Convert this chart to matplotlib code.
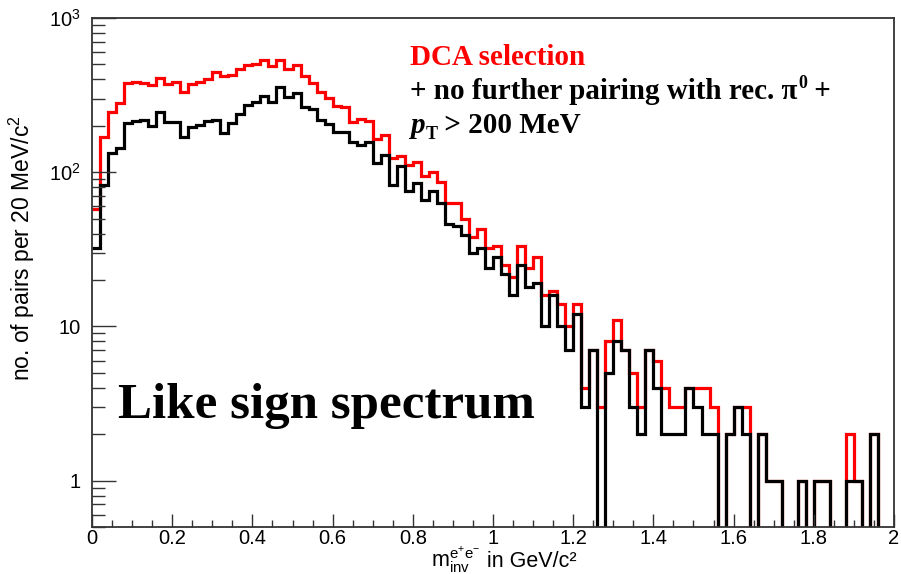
import numpy as np
import matplotlib
matplotlib.use("Agg")
import matplotlib.pyplot as plt
from matplotlib.ticker import FixedLocator, FixedFormatter, MultipleLocator, LogLocator, NullFormatter

# Invariant-mass histogram, 20 MeV/c^2 bins from 0 to 2 GeV/c^2
mass_min = 0.0
bin_width = 0.02
n_bins = 100

# DCA selection (red)
dca_counts = [
    58, 170, 245, 283, 378, 387, 378, 365, 410, 373,
    385, 331, 375, 382, 403, 444, 418, 425, 469, 498,
    505, 531, 485, 531, 467, 492, 418, 378, 331, 303,
    267, 264, 213, 222, 216, 163, 175, 124, 128, 111,
    117, 94, 101, 87, 63, 63, 50, 38, 43, 32,
    33, 25, 21, 33, 24, 28, 16, 17, 14, 10,
    14, 4, 7, 3, 8, 11, 7, 5, 3, 7,
    6, 4, 3, 3, 4, 4, 4, 3, 0, 2,
    3, 3, 0, 2, 1, 1, 0, 0, 1, 0,
    1, 1, 0, 0, 2, 1, 0, 2, 0, 0,
]

# + no further pairing with rec. pi0 + pT > 200 MeV (black)
pt_cut_counts = [
    32, 83, 133, 144, 210, 215, 219, 198, 245, 213,
    213, 169, 196, 203, 214, 219, 179, 208, 239, 272,
    284, 311, 287, 355, 306, 326, 266, 256, 219, 206,
    182, 181, 158, 150, 158, 114, 130, 82, 110, 75,
    85, 66, 75, 63, 46, 45, 39, 30, 32, 24,
    28, 22, 16, 25, 18, 19, 10, 16, 10, 7,
    12, 3, 7, 0, 5, 8, 7, 3, 2, 7,
    4, 2, 2, 2, 4, 3, 2, 2, 0, 2,
    3, 2, 0, 2, 1, 1, 0, 0, 1, 0,
    1, 1, 0, 0, 1, 1, 0, 2, 0, 0,
]

x_tick_values = [0, 0.2, 0.4, 0.6, 0.8, 1.0, 1.2, 1.4, 1.6, 1.8, 2.0]
x_tick_labels = ["0", "0.2", "0.4", "0.6", "0.8", "1", "1.2", "1.4", "1.6", "1.8", "2"]
y_tick_values = [1, 10, 100, 1000]
y_tick_labels = ["1", "10", r"$\mathdefault{10^{2}}$", r"$\mathdefault{10^{3}}$"]

plt.rcParams["font.family"] = ["Liberation Sans", "DejaVu Sans"]
plt.rcParams["mathtext.fontset"] = "custom"
plt.rcParams["mathtext.rm"] = "Liberation Sans"
plt.rcParams["mathtext.it"] = "Liberation Sans"
plt.rcParams["mathtext.bf"] = "Liberation Sans:bold"

W, H = 901, 574
fig = plt.figure(figsize=(W / 100, H / 100), dpi=100)
ax = fig.add_axes([92 / W, 1 - 527 / H, (894 - 92) / W, (527 - 18) / H])

edges = mass_min + bin_width * np.arange(n_bins + 1)
ax.set_yscale("log", nonpositive="clip")
ax.stairs(dca_counts, edges, color="#ff0000", linewidth=2.3, baseline=None)
ax.stairs(pt_cut_counts, edges, color="black", linewidth=2.3, baseline=None)

ax.set_xlim(0, 2)
ax.set_ylim(0.5, 1000)

ax.xaxis.set_major_locator(FixedLocator(x_tick_values))
ax.xaxis.set_major_formatter(FixedFormatter(x_tick_labels))
ax.xaxis.set_minor_locator(MultipleLocator(0.05))
ax.yaxis.set_major_locator(FixedLocator(y_tick_values))
ax.yaxis.set_major_formatter(FixedFormatter(y_tick_labels))
ax.yaxis.set_minor_locator(LogLocator(base=10, subs=np.arange(2, 10), numticks=20))
ax.yaxis.set_minor_formatter(NullFormatter())

ax.tick_params(axis="both", which="both", direction="in", top=False, right=False,
               labelsize=14.5, color="#333333")
ax.tick_params(axis="x", which="major", length=9.5, width=1.0, pad=1.5)
ax.tick_params(axis="x", which="minor", length=5, width=1.0)
ax.tick_params(axis="y", which="major", length=17.5, width=1.0, pad=8)
ax.tick_params(axis="y", which="minor", length=9.5, width=1.0)
for sp in ax.spines.values():
    sp.set_linewidth(1.3)
    sp.set_color("#333333")

fig.text(22 / W, 1 - 248 / H, r"no. of pairs per 20 MeV/$\mathrm{c^{2}}$",
         rotation=90, ha="center", va="center", fontsize=16.5)

# x-axis title, drawn as the mass symbol followed by the unit
fig.text(431 / W, 1 - 567 / H, r"$\mathrm{m_{inv}^{e^{+}e^{-}}}$",
         ha="left", va="baseline", fontsize=15.5)
fig.text(487 / W, 1 - 567 / H, "in GeV/c\u00b2",
         ha="left", va="baseline", fontsize=15.5)

serif = ["Liberation Serif", "DejaVu Serif"]
fs = 21
fig.text(410 / W, 1 - 65 / H, "DCA selection", color="#ff0000", fontsize=fs,
         fontweight="bold", family=serif, va="baseline")
line2 = fig.text(410 / W, 1 - 99 / H, "+ no further pairing with rec. \u03c0", color="black",
                 fontsize=fs, fontweight="bold", family=serif, va="baseline")
sup0 = ax.annotate("0", xy=(1, 0), xycoords=line2, xytext=(0.5, 9), textcoords="offset points",
                   fontsize=13, fontweight="bold", family=serif, va="bottom", ha="left")
ax.annotate(" +", xy=(1, 0), xycoords=(sup0, line2), xytext=(0, 0), textcoords="offset points",
            fontsize=fs, fontweight="bold", family=serif, va="bottom", ha="left")
p_txt = fig.text(410 / W, 1 - 133 / H, "p", color="black", fontsize=fs,
                 fontweight="bold", fontstyle="italic", family=serif, va="baseline")
sub_t = ax.annotate("T", xy=(1, 0), xycoords=p_txt, xytext=(0.5, -3), textcoords="offset points",
                    fontsize=13, fontweight="bold", family=serif, va="bottom", ha="left")
ax.annotate(" > 200 MeV", xy=(1, 0), xycoords=(sub_t, p_txt), xytext=(0, 0),
            textcoords="offset points", fontsize=fs, fontweight="bold", family=serif,
            va="bottom", ha="left")

fig.text(118 / W, 1 - 418 / H, "Like sign spectrum", color="black", fontsize=36.7,
         fontweight="bold", family=serif, va="baseline")

fig.savefig("out.png", dpi=100)
